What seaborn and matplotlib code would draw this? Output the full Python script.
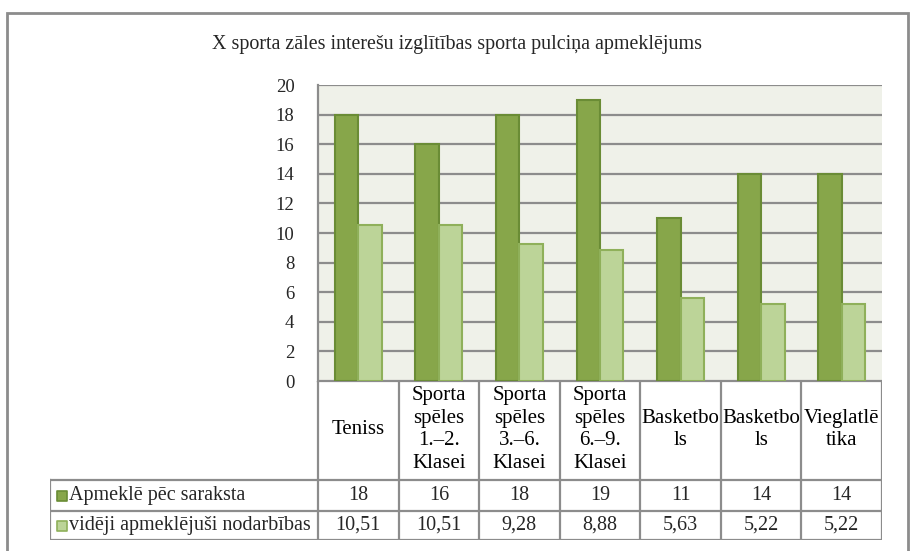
import matplotlib
matplotlib.use("Agg")
import matplotlib.pyplot as plt
import seaborn as sns
import pandas as pd
from matplotlib.patches import Rectangle

# ---- data ----
title = "X sporta zāles interešu izglītības sporta pulciņa apmeklējums"
categories = ["Teniss", "Sporta\nspēles\n1.–2.\nKlasei", "Sporta\nspēles\n3.–6.\nKlasei",
              "Sporta\nspēles\n6.–9.\nKlasei", "Basketbo\nls", "Basketbo\nls", "Vieglatlē\ntika"]
series_names = ["Apmeklē pēc saraksta", "vidēji apmeklējuši nodarbības"]
planned = [18, 16, 18, 19, 11, 14, 14]
average = [10.51, 10.51, 9.28, 8.88, 5.63, 5.22, 5.22]
planned_labels = ["18", "16", "18", "19", "11", "14", "14"]
average_labels = ["10,51", "10,51", "9,28", "8,88", "5,63", "5,22", "5,22"]
yticks = [0, 2, 4, 6, 8, 10, 12, 14, 16, 18, 20]

fills = ["#87A64A", "#BCD498"]
edges = ["#6A8C35", "#8FB05A"]
grid_c = "#8C8C8C"
bg_c = "#EFF1E9"

sns.set_theme(style="white")
plt.rcParams["font.family"] = ["Liberation Serif", "DejaVu Serif"]

W, H = 910, 551
fig = plt.figure(figsize=(W / 100, H / 100), dpi=100)

def fx(px):
    return px / W

def fy(py):
    return 1 - py / H

# plot area
PL, PR, PT, PB = 318, 882, 85, 381
ax = fig.add_axes([fx(PL), fy(PB), fx(PR - PL), (PB - PT) / H])

n = len(categories)
df = pd.DataFrame({
    "pos": list(range(n)) * 2,
    "value": planned + average,
    "series": [series_names[0]] * n + [series_names[1]] * n,
})
sns.barplot(data=df, x="pos", y="value", hue="series", hue_order=series_names,
            palette=fills, saturation=1, width=0.58, gap=0, dodge=True, legend=False,
            linewidth=1.5, ax=ax, errorbar=None)
for i, bars in enumerate(ax.containers):
    for b in bars:
        b.set_edgecolor(edges[i])
        b.set_linewidth(1.5)
        b.set_zorder(3)

ax.set_facecolor(bg_c)
ax.set_xlim(-0.5, n - 0.5)
ax.set_ylim(0, 20)
ax.set_yticks(yticks)
ax.set_yticklabels([str(t) for t in yticks], fontsize=13.5)
ax.tick_params(axis="y", length=0, pad=17)
ax.set_xticks([])
ax.set_xlabel("")
ax.set_ylabel("")
ax.grid(axis="y", color=grid_c, linewidth=1.6, zorder=1)
ax.set_axisbelow(True)
for s in ["top", "right", "bottom"]:
    ax.spines[s].set_visible(False)
ax.spines["left"].set_color(grid_c)
ax.spines["left"].set_linewidth(1.6)

# data table
TL, TB = 50, 540
tax = fig.add_axes([fx(TL), fy(TB), fx(PR - TL), (TB - PB) / H])
cw = (PR - PL) / n
xleft = -0.5 - (PL - TL) / cw
tax.set_xlim(xleft, n - 0.5)
tax.set_ylim(0, TB - PB)
tax.axis("off")
r2, r1, top = 29, 60, TB - PB
lc = dict(color=grid_c, linewidth=1.6, solid_capstyle="projecting")
for i in range(n + 1):
    tax.plot([i - 0.5, i - 0.5], [0, top], **lc)
tax.plot([xleft, xleft], [0, r1], **lc)
tax.plot([-0.5, n - 0.5], [top, top], **lc)
for yv in [0, r2, r1]:
    tax.plot([xleft, n - 0.5], [yv, yv], **lc)

fs = 14.5
for i, c in enumerate(categories):
    tax.text(i, (r1 + top) / 2 + 1, c, ha="center", va="center", fontsize=15,
             linespacing=1.24, color="black")
    tax.text(i, (r2 + r1) / 2, planned_labels[i], ha="center", va="center", fontsize=fs)
    tax.text(i, r2 / 2, average_labels[i], ha="center", va="center", fontsize=fs)

for k, (yc, name) in enumerate([((r2 + r1) / 2, series_names[0]), (r2 / 2, series_names[1])]):
    tax.scatter([xleft + 11.5 / cw], [yc], marker="s", s=56, color=fills[k],
                edgecolor=edges[k], linewidth=1.2, clip_on=False)
    tax.text(xleft + 19 / cw, yc, name, ha="left", va="center", fontsize=fs)

# title
fig.text(fx(457), fy(45), title, ha="center", va="center", fontsize=14.4)

# outer border
fig.patches.append(Rectangle((fx(7), fy(600)), fx(908 - 7), (600 - 13) / H,
                             transform=fig.transFigure, fill=False,
                             edgecolor=grid_c, linewidth=2))

fig.savefig("out.png", dpi=100)
